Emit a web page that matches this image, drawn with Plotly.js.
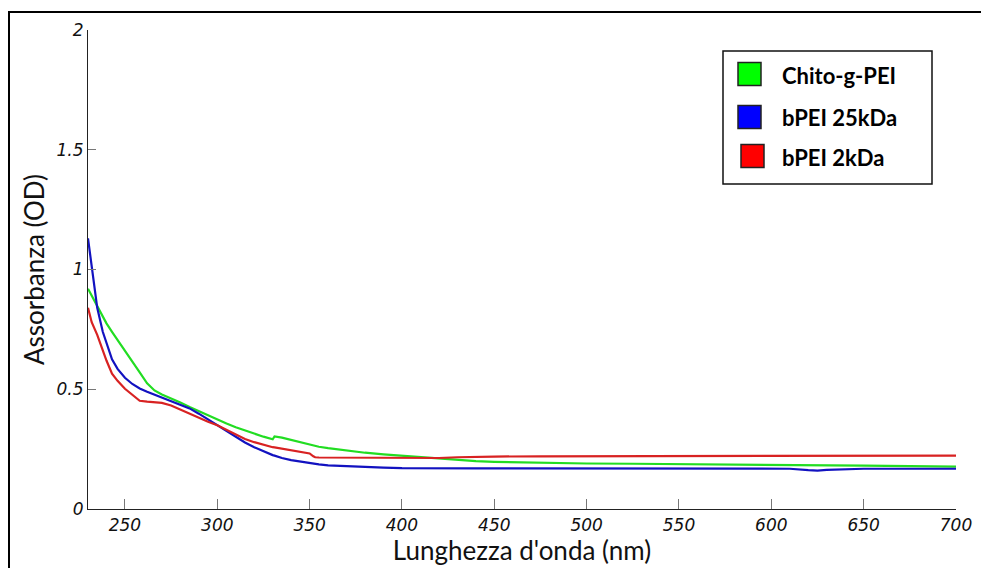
<!DOCTYPE html>
<html>
<head>
<meta charset="utf-8">
<script src="https://cdn.plot.ly/plotly-3.0.1.min.js"></script>
<style>
  html, body { margin: 0; padding: 0; background: #fff; }
  #chart { width: 981px; height: 568px; }
</style>
</head>
<body>
<div id="chart"></div>
<script>
// Wavelength grid (nm)
const wavelength = [230, 232, 235, 238, 240, 243, 246, 250, 254, 258, 262, 266, 270, 275, 280, 285, 290, 295,
  300, 305, 310, 315, 320, 325, 330, 331, 335, 340, 345, 350, 352, 353, 355, 360, 370, 380, 390, 400, 410, 420,
  430, 440, 450, 475, 500, 525, 550, 575, 600, 610, 620, 625, 630, 650, 675, 700];

// Absorbance (OD) of each polymer
const chitoPEI = [0.92, 0.89, 0.845, 0.80, 0.775, 0.74, 0.705, 0.66, 0.615, 0.57, 0.525, 0.495, 0.478, 0.462, 0.445,
  0.426, 0.408, 0.391, 0.375, 0.357, 0.341, 0.327, 0.314, 0.302, 0.291, 0.303, 0.298, 0.288, 0.278, 0.268, 0.265,
  0.263, 0.26, 0.254, 0.243, 0.235, 0.228, 0.222, 0.215, 0.21, 0.205, 0.2, 0.197, 0.193, 0.19, 0.189, 0.188, 0.186,
  0.184, 0.183, 0.183, 0.182, 0.182, 0.181, 0.179, 0.177];

const bpei25 = [1.13, 1.02, 0.84, 0.74, 0.69, 0.625, 0.585, 0.548, 0.522, 0.503, 0.49, 0.478, 0.466, 0.452, 0.438,
  0.42, 0.398, 0.374, 0.35, 0.325, 0.3, 0.278, 0.258, 0.24, 0.225, 0.223, 0.213, 0.204, 0.197, 0.191, 0.189,
  0.188, 0.186, 0.182, 0.178, 0.175, 0.173, 0.171, 0.17, 0.17, 0.17, 0.17, 0.17, 0.17, 0.17, 0.17, 0.169, 0.169,
  0.169, 0.168, 0.162, 0.16, 0.163, 0.168, 0.168, 0.168];

const bpei2 = [0.84, 0.78, 0.727, 0.66, 0.62, 0.565, 0.535, 0.502, 0.478, 0.452, 0.448, 0.447, 0.443, 0.432, 0.415,
  0.398, 0.38, 0.364, 0.35, 0.33, 0.31, 0.292, 0.279, 0.267, 0.258, 0.257, 0.252, 0.245, 0.24, 0.232, 0.22,
  0.216, 0.215, 0.215, 0.214, 0.214, 0.213, 0.212, 0.212, 0.213, 0.216, 0.218, 0.219, 0.22, 0.22, 0.221, 0.221,
  0.222, 0.222, 0.222, 0.222, 0.222, 0.222, 0.222, 0.222, 0.223];

const seriesNames = ['Chito-g-PEI', 'bPEI 25kDa', 'bPEI 2kDa'];
const seriesValues = [chitoPEI, bpei25, bpei2];
const lineColors = ['#22dd22', '#1212c0', '#d82222'];
const swatchColors = ['#00ff00', '#0000ff', '#ff0000'];

const xTicks = [250, 300, 350, 400, 450, 500, 550, 600, 650, 700];
const yTicks = [0, 0.5, 1, 1.5, 2];
const yTickText = ['0', '0.5', '1', '1.5', '2'];

// Plot-area geometry in pixels, used to place the hand-built legend and frame
const W = 981, H = 568;
const M = { l: 88, r: 25, t: 30, b: 59 };
const pw = W - M.l - M.r, ph = H - M.t - M.b;
const px = x => (x - M.l) / pw;
const py = y => (H - M.b - y) / ph;

const traces = seriesValues.map((vals, i) => ({
  type: 'scatter',
  mode: 'lines',
  x: wavelength,
  y: vals,
  name: seriesNames[i],
  line: { color: lineColors[i], width: 2.2 },
  showlegend: false,
  hoverinfo: 'x+y+name'
}));

const shapes = [
  // outer frame around the figure
  { type: 'rect', xref: 'paper', yref: 'paper', x0: px(9), x1: px(1010), y0: py(600), y1: py(12),
    line: { color: '#000', width: 2 }, fillcolor: 'rgba(0,0,0,0)', layer: 'above' },
  // legend box
  { type: 'rect', xref: 'paper', yref: 'paper', x0: px(723), x1: px(932), y0: py(184), y1: py(51),
    line: { color: '#111', width: 1.5 }, fillcolor: '#fff', layer: 'above' }
];
const annotations = [];
const rowCenters = [74, 117, 156];
const swatchX = [738, 738, 741];
seriesNames.forEach((name, i) => {
  const cy = rowCenters[i];
  shapes.push({ type: 'rect', xref: 'paper', yref: 'paper',
    x0: px(swatchX[i]), x1: px(swatchX[i] + 23), y0: py(cy + 11.5), y1: py(cy - 11.5),
    line: { color: '#222', width: 1.5 }, fillcolor: swatchColors[i], layer: 'above' });
  annotations.push({ xref: 'paper', yref: 'paper', x: px(780), y: py(cy + 1), xanchor: 'left', yanchor: 'middle',
    text: '<b>' + name + '</b>', showarrow: false,
    font: { family: 'Lato, "Open Sans", sans-serif', size: 22, color: '#000' } });
});

const tickFont = { family: '"DejaVu Sans", Verdana, sans-serif', size: 17, color: '#111' };
const titleFont = { family: 'Lato, "Open Sans", sans-serif', size: 26, color: '#111' };
const italic = s => '<i>' + s + '</i>';

const layout = {
  width: W, height: H,
  margin: M,
  paper_bgcolor: '#fff', plot_bgcolor: '#fff',
  showlegend: false,
  xaxis: {
    range: [230, 700], tickvals: xTicks, ticktext: xTicks.map(v => italic(String(v))),
    showgrid: false, zeroline: false, showline: true, linecolor: '#222', linewidth: 1.2,
    ticks: 'inside', ticklen: 10, tickcolor: '#777', tickwidth: 1.2,
    tickfont: tickFont,
    title: { text: "Lunghezza d'onda (nm)", font: titleFont, standoff: 2 }
  },
  yaxis: {
    range: [0, 2], tickvals: yTicks, ticktext: yTickText.map(italic),
    showgrid: false, zeroline: false, showline: true, linecolor: '#222', linewidth: 1.2,
    ticks: 'inside', ticklen: 8, tickcolor: '#777', tickwidth: 1.2,
    tickfont: tickFont,
    title: { text: 'Assorbanza (OD)', font: titleFont, standoff: 4 }
  },
  shapes: shapes,
  annotations: annotations
};

Plotly.newPlot('chart', traces, layout, { displayModeBar: false, responsive: false });
</script>
</body>
</html>
